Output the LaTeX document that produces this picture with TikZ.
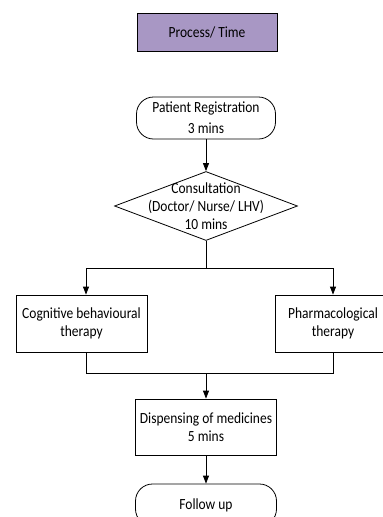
\documentclass[tikz,border=0pt]{standalone}
\usepackage{fontspec}
\setmainfont{Carlito}[FakeStretch=0.87]
\usepackage{xcolor}
\usetikzlibrary{arrows.meta,shapes.geometric}
\definecolor{procpurple}{RGB}{168,151,196}
\tikzset{
  every node/.style={font=\fontsize{15.5}{18}\selectfont, align=center},
  titlebox/.style={draw, fill=procpurple, minimum width=140pt, minimum height=38pt},
  terminal/.style={draw, rounded corners=17pt, minimum width=139pt, minimum height=42pt},
  process/.style={draw, minimum height=57pt},
  decision/.style={draw, diamond, minimum width=183pt, minimum height=69pt, inner sep=0pt},
  flow/.style={-{Triangle[length=8pt,width=6pt]}},
}

\begin{document}
\begin{tikzpicture}[x=1pt,y=-1pt,line width=0.8pt]
    \clip (0,0) rectangle (383,517);
    \node [titlebox] (title) at (207,32) {Process/ Time};
    \node [terminal, font=\fontsize{15.5}{21}\selectfont] (reg) at (206,118) {Patient Registration\\3 mins};
    \node [decision] (consult) at (206,206) {};
    \node (consulttext) at (consult) {Consultation\\(Doctor/ Nurse/ LHV)\\10 mins};
    \node [process, minimum width=131pt] (cbt) at (81.5,323.5) {Cognitive behavioural\\therapy};
    \node [process, minimum width=116pt] (pharm) at (333,323.5) {Pharmacological\\therapy};
    \node [process, minimum width=141pt, minimum height=56pt] (disp) at (206,427) {Dispensing of medicines\\5 mins};
    \node [terminal, minimum width=141pt] (follow) at (206,505) {Follow up};
    \coordinate (split) at (206,268);
    \coordinate (join) at (206,373);

    \draw [flow] (reg) -- (consult);
    \draw (consult) -- (split);
    \draw [flow] (split) -| ([xshift=4.5pt]cbt.north);
    \draw [flow] (split) -| (pharm);
    \draw ([xshift=4.5pt]cbt.south) |- (join);
    \draw (pharm) |- (join);
    \draw [flow] (join) -- (disp);
    \draw [flow] (disp) -- (follow);
\end{tikzpicture}
\end{document}
